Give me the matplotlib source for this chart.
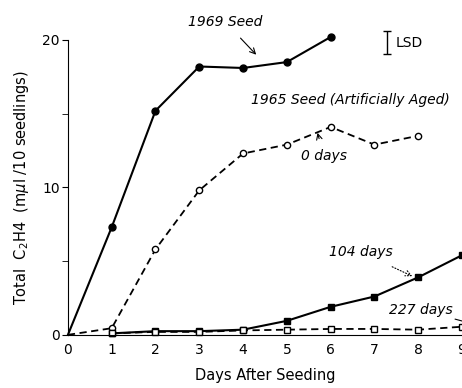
import matplotlib.pyplot as plt

days = [0, 1, 2, 3, 4, 5, 6, 7, 8, 9]

seed_1969_x = [0, 1, 2, 3, 4, 5, 6]
seed_1969 = [0, 7.3, 15.2, 18.2, 18.1, 18.5, 20.2]

aged_0_x = [0, 1, 2, 3, 4, 5, 6, 7, 8]
aged_0 = [0, 0.45, 5.8, 9.8, 12.3, 12.9, 14.1, 12.9, 13.5]

aged_104_x = [1, 2, 3, 4, 5, 6, 7, 8, 9]
aged_104 = [0.1, 0.25, 0.25, 0.35, 0.95, 1.9, 2.6, 3.9, 5.4]

aged_227_x = [1, 2, 3, 4, 5, 6, 7, 8, 9]
aged_227 = [0.1, 0.2, 0.2, 0.3, 0.35, 0.4, 0.4, 0.35, 0.55]

lsd = 1.55

plt.rcParams['font.family'] = ['DejaVu Sans']

fig = plt.figure(figsize=(4.62, 3.88), dpi=100)
ax = fig.add_axes([0.147, 0.137, 0.853, 0.760])

ax.plot(seed_1969_x, seed_1969, '-', color='black', lw=1.5,
        marker='o', ms=5, markevery=list(range(1, len(seed_1969))), clip_on=False)
ax.plot(aged_0_x, aged_0, '--', color='black', lw=1.3, dashes=(4, 2.5),
        marker='o', ms=4.5, mfc='white', mew=1.0,
        markevery=list(range(1, len(aged_0))), clip_on=False)
ax.plot(aged_104_x, aged_104, '-', color='black', lw=1.5,
        marker='s', ms=5, clip_on=False)
ax.plot(aged_227_x, aged_227, '--', color='black', lw=1.3, dashes=(4, 2.5),
        marker='s', ms=4.5, mfc='white', mew=1.0, clip_on=False)

ax.set_xlim(0, 9)
ax.set_ylim(0, 20)
ax.set_xticks(days)
ax.set_yticks([0, 10, 20])
ax.set_yticks([5, 15], minor=True)
ax.tick_params(axis='x', length=0, pad=6, labelsize=10)
ax.tick_params(axis='y', which='both', direction='out', length=4, pad=2, labelsize=10)
ax.spines['top'].set_visible(False)
ax.spines['right'].set_visible(False)

ax.set_xlabel('Days After Seeding', fontsize=10.5, labelpad=8)
ax.set_ylabel('Total  C$_2$H4  (m$\\mu$l /10 seedlings)', fontsize=10.5, labelpad=8)

# LSD bar
ax.errorbar([7.28], [19.8], yerr=[lsd / 2], color='black', lw=1, capsize=3, clip_on=False)
ax.text(7.48, 19.8, 'LSD', fontsize=10, va='center', ha='left')

ax.annotate('1969 Seed', xy=(4.3, 19.0), xytext=(3.6, 21.2), fontsize=10, style='italic',
            ha='center', va='center', annotation_clip=False,
            arrowprops=dict(arrowstyle='->', color='black', lw=0.8, shrinkA=6, shrinkB=0))
ax.text(6.45, 15.9, '1965 Seed (Artificially Aged)', fontsize=10, style='italic',
        ha='center', va='center')
ax.annotate('0 days', xy=(5.7, 13.7), xytext=(5.85, 12.1), fontsize=10, style='italic',
            ha='center', va='center',
            arrowprops=dict(arrowstyle='->', color='black', lw=0.8, shrinkA=6, shrinkB=0))
ax.annotate('104 days', xy=(7.92, 3.9), xytext=(6.7, 5.6), fontsize=10, style='italic',
            ha='center', va='center',
            arrowprops=dict(arrowstyle='->', color='black', lw=0.8, ls=':', shrinkA=8, shrinkB=2))
ax.annotate('227 days', xy=(9.05, 0.9), xytext=(8.05, 1.7), fontsize=10, style='italic',
            ha='center', va='center', annotation_clip=False,
            arrowprops=dict(arrowstyle='-', color='black', lw=0.8, shrinkA=20, shrinkB=0))

fig.savefig('out.png', dpi=100)
